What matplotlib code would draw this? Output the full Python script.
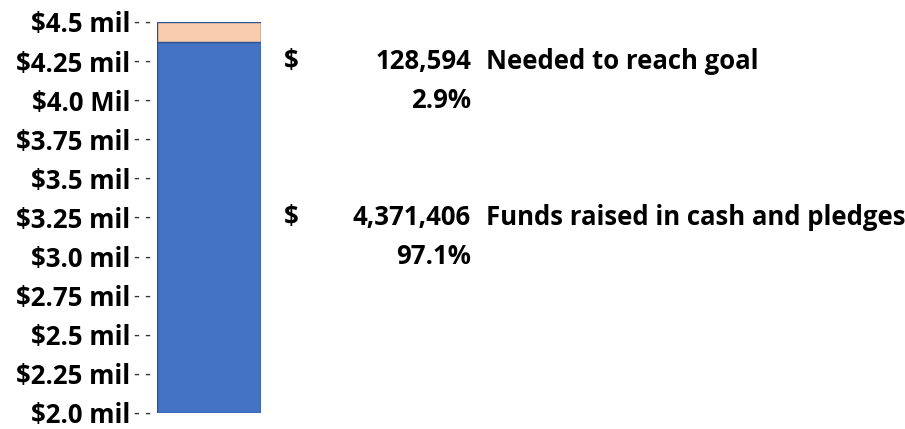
import matplotlib
matplotlib.use("Agg")
import matplotlib.pyplot as plt
import matplotlib.transforms as mtransforms

# Data
goal = 4_500_000
raised = 4_371_406
needed = goal - raised
raised_pct = "97.1%"
needed_pct = "2.9%"
tick_values = [4.5, 4.25, 4.0, 3.75, 3.5, 3.25, 3.0, 2.75, 2.5, 2.25, 2.0]
tick_labels = ["$4.5 mil", "$4.25 mil", "$4.0 Mil", "$3.75 mil", "$3.5 mil",
               "$3.25 mil", "$3.0 mil", "$2.75 mil", "$2.5 mil", "$2.25 mil", "$2.0 mil"]
axis_base = 2.0

plt.rcParams['font.family'] = ['Open Sans', 'DejaVu Sans']

fig = plt.figure(figsize=(9.05, 4.29), dpi=100)
ax = fig.add_axes([157/905, 16/429, 104/905, (413-22)/429])

raised_m = raised / 1e6
needed_m = needed / 1e6
ax.bar([0], [raised_m - axis_base], bottom=axis_base, width=1.0,
       color="#4472C4", edgecolor="#2F528F", linewidth=1.0)
ax.bar([0], [needed_m], bottom=raised_m, width=1.0,
       color="#F8CBAD", edgecolor="#2F528F", linewidth=1.0)

ax.set_xlim(-0.5, 0.5)
ax.set_ylim(axis_base, 4.5)
ax.set_yticks(tick_values)
ax.set_yticklabels(tick_labels, fontsize=18.5, fontweight='bold')
ax.tick_params(axis='y', length=0, pad=19)
ax.set_xticks([])
for s in ax.spines.values():
    s.set_visible(False)

for v in tick_values:
    ax.annotate("- -", xy=(0, v), xycoords=('axes fraction', 'data'),
                xytext=(-6, 0), textcoords='offset pixels',
                ha='right', va='center', fontsize=12, color='#333333',
                family='DejaVu Sans', annotation_clip=False)

trans = mtransforms.blended_transform_factory(fig.transFigure, ax.transData)
fs = 18.5
kw = dict(transform=trans, fontsize=fs, fontweight='bold', va='center')
ax.text(284/905, 4.25, "$", ha='left', **kw)
ax.text(471/905, 4.25, f"{needed:,}", ha='right', **kw)
ax.text(486/905, 4.25, "Needed to reach goal", ha='left', **kw)
ax.text(471/905, 4.0, needed_pct, ha='right', **kw)

ax.text(284/905, 3.25, "$", ha='left', **kw)
ax.text(471/905, 3.25, f"{raised:,}", ha='right', **kw)
ax.text(486/905, 3.25, "Funds raised in cash and pledges", ha='left', **kw)
ax.text(471/905, 3.0, raised_pct, ha='right', **kw)

fig.savefig("out.png", dpi=100)
